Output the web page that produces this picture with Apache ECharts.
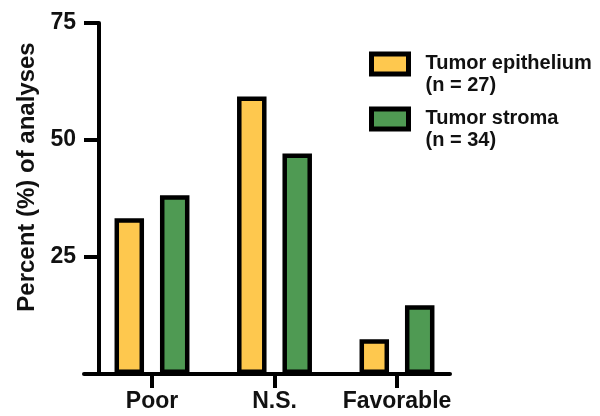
<!DOCTYPE html>
<html>
<head>
<meta charset="utf-8">
<script src="https://cdn.jsdelivr.net/npm/echarts@6/dist/echarts.min.js"></script>
<style>html,body{margin:0;padding:0;background:#fff;}#c{width:600px;height:416px;}</style>
</head>
<body>
<div id="c"></div>
<script>
var categories = ['Poor', 'N.S.', 'Favorable'];
var epithelium = [33.3, 59.3, 7.4];
var stroma = [38.2, 47.1, 14.7];
var seriesNames = ['Tumor epithelium', 'Tumor stroma'];
var nLabels = ['(n = 27)', '(n = 34)'];
var yTicks = [0, 25, 50, 75];

var FONT = '"Liberation Sans", Arial, Helvetica, sans-serif';
var chart = echarts.init(document.getElementById('c'), null, {renderer: 'canvas'});
var legendText = {fontFamily: FONT, fontWeight: 'bold', fontSize: 20, lineHeight: 22, color: '#111'};
var option = {
  backgroundColor: '#fff',
  animation: false,
  textStyle: {fontFamily: FONT, color: '#000'},
  grid: [
    {left: 90.75, right: 141.75, top: 23, bottom: 42},
    {left: 84, right: 150, top: 23, bottom: 42}
  ],
  legend: {
    orient: 'vertical',
    left: 369,
    top: 32,
    padding: 0,
    itemGap: -9,
    itemWidth: 37,
    itemHeight: 20,
    icon: 'rect',
    itemStyle: {borderWidth: 5, borderColor: '#000'},
    data: seriesNames,
    formatter: function (name) {
      return '{e| }\n{a|' + name + '}\n{a|' + nLabels[seriesNames.indexOf(name)] + '}';
    },
    textStyle: {
      fontFamily: FONT, fontWeight: 'bold', fontSize: 20, lineHeight: 22,
      color: '#111', padding: [0, 0, 0, 12],
      rich: {
        e: {fontSize: 2, lineHeight: 20, height: 20},
        a: legendText
      }
    }
  },
  xAxis: [
    {
      type: 'category', gridIndex: 0, data: categories,
      axisLine: {show: false},
      axisTick: {show: true, alignWithLabel: true, length: 14, lineStyle: {color: '#000', width: 4}},
      axisLabel: {interval: 0, fontFamily: FONT, fontWeight: 'bold', fontSize: 23, color: '#111', margin: 16, hideOverlap: false}
    },
    {
      type: 'value', gridIndex: 1, min: 0, max: 1,
      axisLine: {show: true, lineStyle: {color: '#000', width: 4}},
      axisTick: {show: false}, axisLabel: {show: false}, splitLine: {show: false}
    }
  ],
  yAxis: [
    {
      type: 'value', gridIndex: 0, min: yTicks[0], max: yTicks[yTicks.length - 1], interval: 25,
      offset: -8.25,
      name: 'Percent (%) of analyses',
      nameLocation: 'middle',
      nameGap: 58,
      nameTextStyle: {fontFamily: FONT, fontWeight: 'bold', fontSize: 24, color: '#111', padding: [0, 0, 0, 43]},
      axisLine: {show: true, lineStyle: {color: '#000', width: 4}},
      axisTick: {show: true, length: 15, lineStyle: {color: '#000', width: 4}},
      axisLabel: {
        fontFamily: FONT, fontWeight: 'bold', fontSize: 23, color: '#111', margin: 23,
        formatter: function (v) { return v === 0 ? '' : String(v); }
      },
      splitLine: {show: false}
    },
    {type: 'value', gridIndex: 1, show: false, min: 0, max: 1}
  ],
  series: [
    {
      name: seriesNames[0], type: 'bar', xAxisIndex: 0, yAxisIndex: 0,
      data: epithelium, barWidth: 29.5, barGap: '54%',
      itemStyle: {color: '#FEC84E', borderColor: '#000', borderWidth: 4.5}
    },
    {
      name: seriesNames[1], type: 'bar', xAxisIndex: 0, yAxisIndex: 0,
      data: stroma, barWidth: 29.5, barGap: '54%',
      itemStyle: {color: '#4F9A53', borderColor: '#000', borderWidth: 4.5}
    }
  ]
};
chart.setOption(option);
</script>
</body>
</html>
